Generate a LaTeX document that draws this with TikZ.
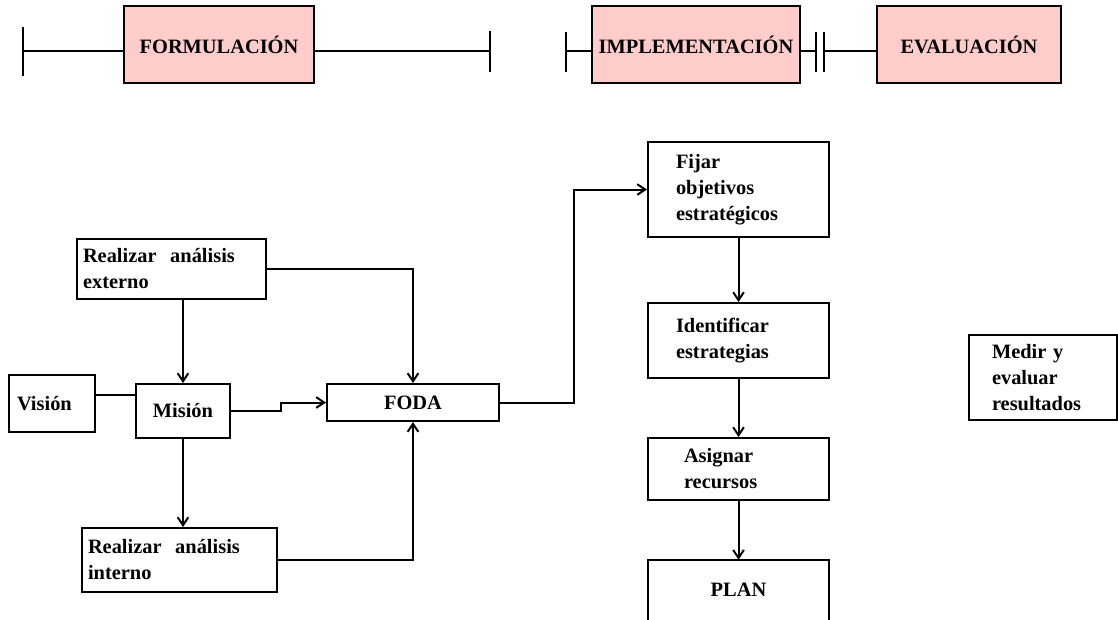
\documentclass[tikz,border=0pt]{standalone}
\usepackage{fontspec}
\setmainfont{Liberation Serif}
\usetikzlibrary{arrows.meta}
\definecolor{fasepink}{RGB}{255,204,204}
\tikzset{
  fase/.style={draw, line width=1.5pt, fill=fasepink, minimum height=57.75pt, align=center},
  caja/.style={draw, line width=1.5pt, align=left, inner ysep=0pt},
  linea/.style={line width=1.5pt},
  flecha/.style={line width=1.5pt, -{Straight Barb[length=6pt,width=8pt]}}
}
\begin{document}
\begin{tikzpicture}[x=0.75pt,y=-0.75pt,font=\fontsize{15.3}{19.5}\selectfont\bfseries]
  \useasboundingbox (0,0) rectangle (1118,619);
  % fases
  \node[fase, minimum width=142.5pt] (formul) at (219,44.5) {FORMULACIÓN};
  \node[fase, minimum width=156pt] (impl) at (696,44.5) {IMPLEMENTACIÓN};
  \node[fase, minimum width=138pt] (eval) at (969,44.5) {EVALUACIÓN};
  \coordinate (t1) at (23,51);
  \coordinate (t2) at (490,51);
  \coordinate (t3) at (566,51);
  \coordinate (t4) at (816,51);
  \coordinate (t5) at (824,51);
  \draw[linea] ([yshift=18pt]t1) -- ([yshift=-18.75pt]t1);
  \draw[linea] ([yshift=15pt]t2) -- ([yshift=-15.75pt]t2);
  \draw[linea] ([yshift=14.25pt]t3) -- ([yshift=-15.75pt]t3);
  \draw[linea] ([yshift=14.25pt]t4) -- ([yshift=-15.75pt]t4);
  \draw[linea] ([yshift=14.25pt]t5) -- ([yshift=-15.75pt]t5);
  \draw[linea] (t1) -- (formul.west |- t1);
  \draw[linea] (formul.east |- t2) -- (t2);
  \draw[linea] (t3) -- (impl.west |- t3);
  \draw[linea] (impl.east |- t4) -- (t4);
  \draw[linea] (t5) -- (eval.west |- t5);
  % formulacion
  \node[caja, minimum height=45pt, text width=132.75pt, inner xsep=4.5pt] (ext) at (171.5,269) {Realizar\ \ análisis\\externo};
  \node[caja, minimum height=42.75pt, text width=52.5pt, inner xsep=6pt] (vis) at (52,403.5) {Visión};
  \node[caja, minimum height=40.5pt, minimum width=70.5pt, align=center] (mis) at (183,411) {Misión};
  \node[caja, minimum height=27.75pt, minimum width=129pt, align=center] (foda) at (413,402.5) {FODA};
  \node[caja, minimum height=48pt, text width=137.25pt, inner xsep=4.5pt] (int) at (179.5,560) {Realizar\ \ análisis\\interno};
  % implementacion
  \node[caja, minimum height=71.25pt, text width=93.75pt, inner xsep=21pt] (fijar) at (738.5,189.5) {Fijar\\objetivos\\estratégicos};
  \node[caja, minimum height=56.25pt, text width=93.75pt, inner xsep=21pt] (ident) at (738.5,340.5) {Identificar\\estrategias};
  \node[caja, minimum height=46.5pt, text width=81.75pt, inner xsep=27pt] (asig) at (738.5,469) {Asignar\\recursos};
  \node[minimum width=135pt, minimum height=45pt] (plan) at (738.5,590) {PLAN};
  \draw[linea] (plan.south west) -- (plan.north west) -- (plan.north east) -- (plan.south east);
  % evaluacion
  \node[caja, minimum height=63.75pt, text width=76.5pt, inner xsep=17.25pt] (medir) at (1043,377.5) {Medir y\\evaluar\\resultados};
  % conexiones
  \draw[flecha] (ext.east) -| (foda.north);
  \draw[flecha] (ext.south -| mis.north) -- (mis.north);
  \draw[linea] ([yshift=6.75pt]vis.east) -- ([yshift=6.75pt]vis.east -| mis.west);
  \draw[flecha] (mis.east) -- ++(50,0) |- (foda.west);
  \draw[flecha] (mis.south) -- (mis.south |- int.north);
  \draw[flecha] (int.east) -| (foda.south);
  \draw[flecha] (foda.east) -- ++(74,0) |- (fijar.west);
  \draw[flecha] (fijar.south) -- (ident.north);
  \draw[flecha] (ident.south) -- (asig.north);
  \draw[flecha] (asig.south) -- (plan.north);
\end{tikzpicture}
\end{document}
